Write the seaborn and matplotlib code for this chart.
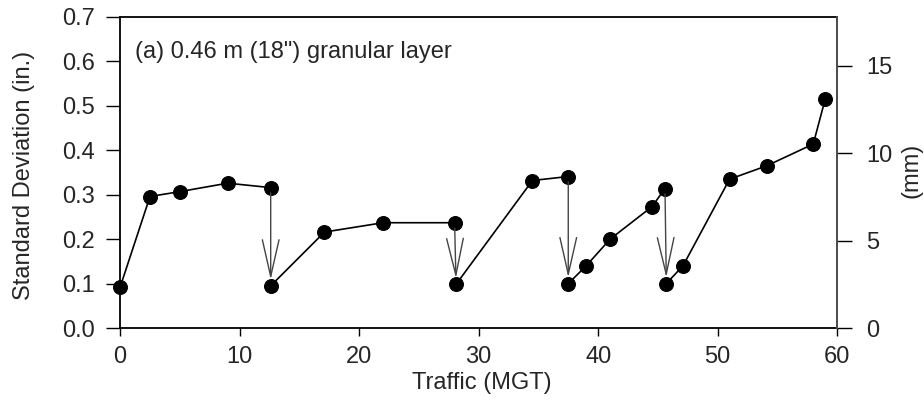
import matplotlib
matplotlib.use("Agg")
import matplotlib.pyplot as plt
import seaborn as sns
import pandas as pd

sns.set_theme(style="ticks")
plt.rcParams['font.family'] = ['Liberation Sans', 'DejaVu Sans']

# Data: traffic (MGT) and standard deviation (in.) for each segment between re-levelling
seg1_x = [0, 2.5, 5.0, 9.0, 12.6]
seg1_y = [0.092, 0.296, 0.307, 0.326, 0.316]
seg2_x = [12.6, 17.1, 22.0, 28.0]
seg2_y = [0.095, 0.216, 0.237, 0.237]
seg3_x = [28.1, 34.5, 37.5]
seg3_y = [0.098, 0.332, 0.341]
seg4_x = [37.5, 39.0, 41.0, 44.5, 45.6]
seg4_y = [0.100, 0.140, 0.200, 0.273, 0.314]
seg5_x = [45.7, 47.1, 51.0, 54.1, 58.0, 59.0]
seg5_y = [0.100, 0.140, 0.335, 0.365, 0.414, 0.515]

segments = [(seg1_x, seg1_y), (seg2_x, seg2_y), (seg3_x, seg3_y),
            (seg4_x, seg4_y), (seg5_x, seg5_y)]

x_ticks = [0, 10, 20, 30, 40, 50, 60]
y_ticks = [0.0, 0.1, 0.2, 0.3, 0.4, 0.5, 0.6, 0.7]
mm_ticks = [0, 5, 10, 15]

FS = 17

fig = plt.figure(figsize=(9.24, 4.04), dpi=100)
ax = fig.add_axes([0.130, 0.188, 0.776, 0.770])

for xs, ys in segments:
    df = pd.DataFrame({"Traffic": xs, "SD": ys})
    sns.lineplot(data=df, x="Traffic", y="SD", sort=False, ax=ax, color="black",
                 linewidth=1.2, marker="o", markersize=10, markeredgecolor="black",
                 markerfacecolor="black", clip_on=False, zorder=3)

# Arrows from end of each segment to start of the next
for (xa, ya), (xb, yb) in zip(segments[:-1], segments[1:]):
    ax.annotate("", xy=(xb[0], yb[0] + 0.014), xytext=(xa[-1], ya[-1] - 0.012),
                arrowprops=dict(arrowstyle="->,head_length=2.2,head_width=0.5",
                                color="#444444", lw=1.0, shrinkA=0, shrinkB=0))

ax.set_xlim(0, 60)
ax.set_ylim(0, 0.7)
ax.set_xticks(x_ticks)
ax.set_yticks(y_ticks)
ax.set_yticklabels([f"{v:.1f}" for v in y_ticks])
ax.set_xlabel("Traffic (MGT)", fontsize=FS, va="top")
ax.set_ylabel("Standard Deviation (in.)", fontsize=FS)
ax.xaxis.set_label_coords(0.504, -0.141)
ax.yaxis.set_label_coords(-0.119, 0.49)
ax.tick_params(axis="x", labelsize=FS, length=6, width=1.0, color="black", pad=7)
ax.tick_params(axis="y", labelsize=FS, length=10, width=1.0, color="black", pad=8)
for s in ax.spines.values():
    s.set_linewidth(1.3)
    s.set_color("black")

ax.text(1.25, 0.621, "(a) 0.46 m (18\") granular layer", fontsize=FS, va="center", ha="left")

ax2 = ax.twinx()
ax2.set_ylim(0, 0.7 * 25.4)
ax2.set_yticks(mm_ticks)
ax2.tick_params(axis="y", labelsize=FS, length=11, width=1.0, color="black", pad=10)
ax2.set_ylabel("(mm)", fontsize=FS)
ax2.yaxis.set_label_coords(1.088, 0.508)
for s in ax2.spines.values():
    s.set_visible(False)
ax2.spines["right"].set_visible(True)
ax2.spines["right"].set_color("#555555")
ax2.spines["right"].set_linewidth(1.3)

fig.savefig("out.png", dpi=100)
